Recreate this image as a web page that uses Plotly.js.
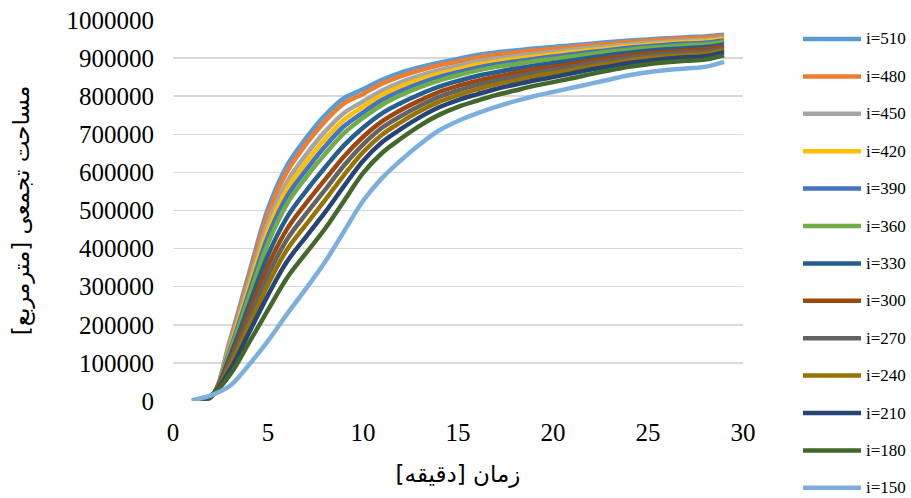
<!DOCTYPE html>
<html>
<head>
<meta charset="utf-8">
<script src="https://cdn.plot.ly/plotly-3.0.1.min.js"></script>
<style>html,body{margin:0;padding:0;background:#fff;}#chart{width:911px;height:498px;}</style>
</head>
<body>
<div id="chart"></div>
<script>
const minutes = [1,2,3,4,5,6,7,8,9,10,11,12,13,14,15,16,17,18,19,20,21,22,23,24,25,26,27,28,29];

const seriesNames = ["i=510","i=480","i=450","i=420","i=390","i=360","i=330","i=300","i=270","i=240","i=210","i=180","i=150"];
const seriesColors = ["#5B9BD5","#ED7D31","#A5A5A5","#FFC000","#4472C4","#70AD47","#255E91","#9E480E","#636363","#997300","#264478","#43682B","#7CAFDD"];

const area510 = [0,10000,160000,335000,505000,618000,690000,750000,795000,818000,843000,862000,876000,888000,898000,908000,915000,920000,925000,929000,934000,938000,942000,946000,949000,952000,955000,957000,961000];
const area480 = [0,10000,155000,325000,491000,602000,674000,734000,781000,806000,833000,853000,868000,881000,891000,902000,909000,914000,920000,924000,929000,934000,938000,942000,946000,949000,952000,954000,958000];
const area450 = [0,11000,147000,309000,467000,575000,646000,707000,756000,786000,815000,837000,854000,868000,880000,891000,899000,905000,911000,916000,922000,927000,931000,936000,940000,943000,946000,948000,953000];
const area420 = [0,11000,141000,297000,449000,556000,626000,687000,738000,772000,803000,826000,844000,859000,871000,883000,891000,898000,904000,910000,916000,921000,926000,931000,935000,939000,942000,944000,950000];
const area390 = [0,11000,135000,285000,432000,537000,606000,668000,721000,757000,790000,814000,834000,850000,863000,875000,884000,891000,898000,904000,910000,916000,921000,927000,931000,935000,938000,940000,946000];
const area360 = [0,11000,129000,273000,414000,517000,587000,648000,703000,743000,777000,803000,824000,841000,855000,867000,877000,884000,892000,898000,904000,911000,917000,922000,927000,930000,934000,936000,943000];
const area330 = [0,12000,118000,251000,383000,482000,551000,613000,671000,717000,755000,782000,805000,825000,840000,853000,863000,872000,880000,887000,894000,901000,908000,914000,919000,923000,926000,929000,936000];
const area300 = [0,12000,108000,232000,355000,451000,519000,581000,642000,693000,734000,764000,789000,811000,827000,840000,851000,861000,870000,877000,885000,893000,900000,907000,912000,916000,920000,923000,931000];
const area270 = [0,12000,100000,215000,330000,424000,491000,554000,618000,673000,717000,748000,775000,798000,815000,829000,841000,851000,861000,869000,877000,886000,893000,901000,906000,911000,914000,917000,926000];
const area240 = [0,13000,92000,198000,306000,397000,463000,527000,593000,653000,699000,732000,761000,785000,803000,818000,831000,841000,852000,860000,869000,878000,886000,894000,900000,905000,908000,911000,921000];
const area210 = [0,13000,82000,179000,278000,366000,431000,495000,564000,630000,679000,714000,745000,771000,790000,805000,819000,830000,841000,850000,860000,870000,878000,887000,893000,898000,902000,905000,915000];
const area180 = [0,14000,69000,153000,239000,323000,388000,452000,525000,598000,651000,689000,723000,751000,772000,788000,803000,815000,827000,837000,847000,858000,868000,877000,884000,889000,893000,896000,907000];
const area150 = [2000,15000,40000,95000,158000,228000,295000,365000,445000,525000,585000,632000,674000,710000,735000,755000,772000,787000,800000,811000,822000,833000,844000,855000,863000,869000,873000,877000,890000];

const allSeries = [area510,area480,area450,area420,area390,area360,area330,area300,area270,area240,area210,area180,area150];

const yTickVals = [0,100000,200000,300000,400000,500000,600000,700000,800000,900000,1000000];
const xTickVals = [0,5,10,15,20,25,30];

// titles are laid out right-to-left by the renderer; order chosen so that the
// x title appears as in the source picture ("زمان" on the left, "[دقیقه]" on the right)
const xTitle = "[دقیقه] زمان";
const yTitle = "\u200Fمساحت تجمعی [مترمربع]\u200F";

const traces = allSeries.map((vals, k) => ({
  x: minutes,
  y: vals,
  type: 'scatter',
  mode: 'lines',
  name: seriesNames[k],
  showlegend: false,
  line: {color: seriesColors[k], width: 4.5, shape: 'spline', smoothing: 1}
}));

const serif = "'Liberation Serif','Times New Roman',serif";

// legend drawn as paper-positioned line samples + labels, built from seriesNames/seriesColors
const W = 911, H = 498, ML = 173, MR = 168, MT = 20, MB = 97;
const PW = W - ML - MR, PH = H - MT - MB;
const px2x = p => (p - ML) / PW;
const py2y = p => (H - MB - p) / PH;
const legendTop = 39, legendStep = 37.4;
const shapes = [];
const annotations = [];
seriesNames.forEach((nm, k) => {
  const yy = py2y(legendTop + k * legendStep);
  shapes.push({type: 'line', xref: 'paper', yref: 'paper', x0: px2x(803), x1: px2x(861), y0: yy, y1: yy,
               line: {color: seriesColors[k], width: 4.5}});
  annotations.push({xref: 'paper', yref: 'paper', x: px2x(864), y: yy, xanchor: 'left', yanchor: 'middle',
               text: nm, showarrow: false, font: {family: serif, size: 17, color: '#000'}});
});

const layout = {
  width: W,
  height: H,
  margin: {l: ML, r: MR, t: MT, b: MB},
  paper_bgcolor: '#ffffff',
  plot_bgcolor: '#ffffff',
  showlegend: false,
  shapes: shapes,
  annotations: annotations,
  xaxis: {
    range: [0, 30],
    tickvals: xTickVals,
    ticktext: xTickVals.map(String),
    showgrid: false,
    zeroline: false,
    showline: false,
    ticks: '',
    ticklabelstandoff: 14,
    tickfont: {family: serif, size: 25, color: '#000'},
    title: {text: xTitle, font: {family: "'DejaVu Sans', sans-serif", size: 23, color: '#000'}, standoff: 20}
  },
  yaxis: {
    range: [0, 1000000],
    tickvals: yTickVals,
    ticktext: yTickVals.map(String),
    showgrid: true,
    gridcolor: '#D9D9D9',
    gridwidth: 1.5,
    zeroline: false,
    showline: false,
    ticks: '',
    ticklabelstandoff: 18,
    tickfont: {family: serif, size: 25, color: '#000'},
    title: {text: yTitle, font: {family: "'DejaVu Sans', sans-serif", size: 23, color: '#000'}, standoff: 30}
  }
};

Plotly.newPlot('chart', traces, layout, {displayModeBar: false, staticPlot: true});
</script>
</body>
</html>
